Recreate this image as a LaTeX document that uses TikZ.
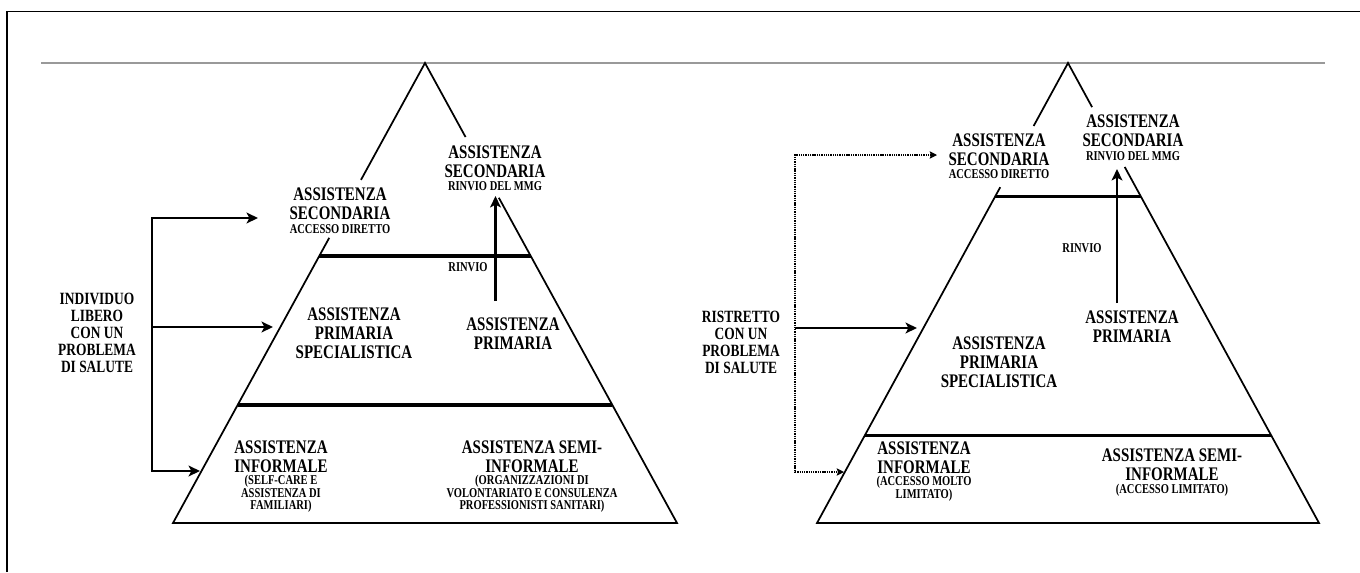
\documentclass[tikz,border=0pt]{standalone}
\usepackage{fontspec}
\setmainfont{Liberation Serif}
\newfontfamily\tnr[FakeStretch=0.78]{Liberation Serif}
\usetikzlibrary{arrows.meta,calc}
\tikzset{
  bigtxt/.style={font=\tnr\bfseries\fontsize{14.4}{14.25}\selectfont, align=center, inner sep=0pt},
  midtxt/.style={font=\tnr\bfseries\fontsize{12.9}{12.75}\selectfont, align=center, inner sep=0pt},
  smalltxt/.style={font=\tnr\bfseries\fontsize{10.1}{9.4}\selectfont, align=center, inner sep=0pt},
  side/.style={line width=1.3pt, line join=miter},
  tier/.style={line width=2.4pt},
  basestroke/.style={line width=2.1pt},
  arr/.style={line width=2pt, line join=miter, -{Stealth[length=8.5pt,width=8pt,inset=2pt]}},
  dblarr/.style={line width=2pt, line join=miter, {Stealth[length=8.5pt,width=8pt,inset=2pt]}-{Stealth[length=8.5pt,width=8pt,inset=2pt]}},
  dotarr/.style={line width=1pt, dash pattern=on 1pt off 0.7pt, line join=miter,
    {Stealth[length=5.5pt,width=5.5pt,inset=1pt]}-{Stealth[length=5.5pt,width=5.5pt,inset=1pt]}},
}
\begin{document}
\begin{tikzpicture}[x=0.75pt,y=-0.75pt]
\useasboundingbox (0,0) rectangle (1360,572);

% outer frame and header rule
\draw[line width=1pt] (7,572) -- (7,11.5) -- (1360,11.5);
\draw[black!40, line width=0.8pt] (41,63) -- (1325,63);

% ---------- left pyramid ----------
\coordinate (apexL) at (425,63);
\coordinate (blL) at (173,523);
\coordinate (brL) at (677,523);
\draw[side] ($(apexL)!0.254!(blL)$) -- (apexL) -- ($(apexL)!0.161!(brL)$);
\draw[side] ($(apexL)!0.380!(blL)$) -- (blL) -- (brL) -- ($(apexL)!0.293!(brL)$);
\draw[basestroke] (blL) -- (brL);
\draw[tier] ($(apexL)!0.4196!(blL)$) -- ($(apexL)!0.4196!(brL)$);
\draw[tier] ($(apexL)!0.7435!(blL)$) -- ($(apexL)!0.7435!(brL)$);

\node[bigtxt] (secRL) at (495,161.5) {ASSISTENZA\\SECONDARIA};
\node[smalltxt] (secRLsub) at (495,186) {RINVIO DEL MMG};
\node[bigtxt] (secAL) at (340,203.5) {ASSISTENZA\\SECONDARIA};
\node[smalltxt] (secALsub) at (340,229) {ACCESSO DIRETTO};
\node[smalltxt] (rinvL) at (468,267) {RINVIO};
\node[midtxt] (indiv) at (97,333) {INDIVIDUO\\LIBERO\\CON UN\\PROBLEMA\\DI SALUTE};
\node[bigtxt] (pspecL) at (354,333) {ASSISTENZA\\PRIMARIA\\SPECIALISTICA};
\node[bigtxt] (primL) at (513,333.5) {ASSISTENZA\\PRIMARIA};
\node[bigtxt] (infL) at (281,456.5) {ASSISTENZA\\INFORMALE};
\node[smalltxt] (infLsub) at (281,494) {(SELF-CARE E\\ASSISTENZA DI\\FAMILIARI)};
\node[bigtxt] (semiL) at (532,456.5) {ASSISTENZA SEMI-\\INFORMALE};
\node[smalltxt] (semiLsub) at (532,494) {(ORGANIZZAZIONI DI\\VOLONTARIATO E CONSULENZA\\PROFESSIONISTI SANITARI)};

% referral arrow
\coordinate (rfootL) at (495.5,301);
\coordinate (rtipL) at (495.5,196);
\draw[arr] (rfootL) -- (rtipL);

% access arrows from the individual
\coordinate (trL0) at (152,218);
\coordinate (trL1) at (152,327);
\coordinate (trL2) at (152,471);
\coordinate (tipSecL) at (258,218);
\coordinate (tipPrimL) at (273,327);
\coordinate (tipInfL) at (200,471);
\draw[dblarr] (tipSecL) -- (trL0) -- (trL2) -- (tipInfL);
\draw[arr] (trL1) -- (tipPrimL);

% ---------- right pyramid ----------
\coordinate (apexR) at (1068,63);
\coordinate (blR) at (817,523);
\coordinate (brR) at (1319,523);
\draw[side] ($(apexR)!0.137!(blR)$) -- (apexR) -- ($(apexR)!0.096!(brR)$);
\draw[side] ($(apexR)!0.270!(blR)$) -- (blR) -- (brR) -- ($(apexR)!0.226!(brR)$);
\draw[basestroke] (blR) -- (brR);
\draw[tier] ($(apexR)!0.291!(blR)$) -- ($(apexR)!0.291!(brR)$);
\draw[tier] ($(apexR)!0.809!(blR)$) -- ($(apexR)!0.809!(brR)$);

\node[bigtxt] (secRR) at (1133,130.5) {ASSISTENZA\\SECONDARIA};
\node[smalltxt] (secRRsub) at (1133,156) {RINVIO DEL MMG};
\node[bigtxt] (secAR) at (999,149.5) {ASSISTENZA\\SECONDARIA};
\node[smalltxt] (secARsub) at (999,174) {ACCESSO DIRETTO};
\node[smalltxt] (rinvR) at (1082,248) {RINVIO};
\node[midtxt] (ristr) at (741,342.5) {RISTRETTO\\CON UN\\PROBLEMA\\DI SALUTE};
\node[bigtxt] (primR) at (1132,326.5) {ASSISTENZA\\PRIMARIA};
\node[bigtxt] (pspecR) at (999,362) {ASSISTENZA\\PRIMARIA\\SPECIALISTICA};
\node[bigtxt] (infR) at (924,457.5) {ASSISTENZA\\INFORMALE};
\node[smalltxt] (infRsub) at (924,489) {(ACCESSO MOLTO\\LIMITATO)};
\node[bigtxt] (semiR) at (1172,464.5) {ASSISTENZA SEMI-\\INFORMALE};
\node[smalltxt] (semiRsub) at (1172,490) {(ACCESSO LIMITATO)};

% referral arrow
\coordinate (rfootR) at (1117,303);
\coordinate (rtipR) at (1117,169);
\draw[arr] (rfootR) -- (rtipR);

% restricted access arrows
\coordinate (trR0) at (795,155);
\coordinate (trR1) at (795,328);
\coordinate (trR2) at (795,472);
\coordinate (tipSecR) at (937,155);
\coordinate (tipPrimR) at (917,328);
\coordinate (tipInfR) at (844,472);
\draw[dotarr] (tipSecR) -- (trR0) -- (trR2) -- (tipInfR);
\draw[arr] (trR1) -- (tipPrimR);
\end{tikzpicture}
\end{document}
